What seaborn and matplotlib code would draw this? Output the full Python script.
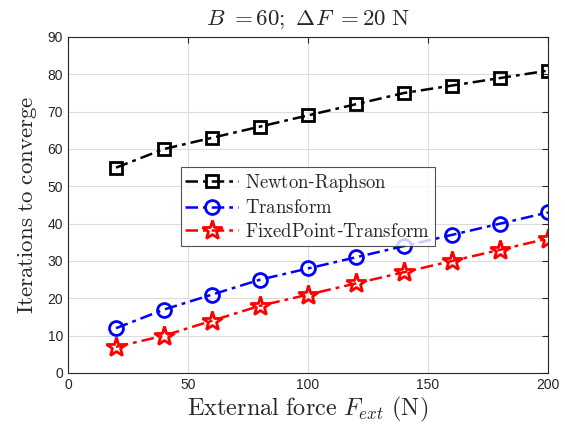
import matplotlib
matplotlib.use("Agg")
import matplotlib.pyplot as plt
import seaborn as sns
import pandas as pd

force = [20, 40, 60, 80, 100, 120, 140, 160, 180, 200]
newton = [55, 60, 63, 66, 69, 72, 75, 77, 79, 81]
transform = [12, 17, 21, 25, 28, 31, 34, 37, 40, 43]
fixedpoint = [7, 10, 14, 18, 21, 24, 27, 30, 33, 36]
xticks = [0, 50, 100, 150, 200]
yticks = [0, 10, 20, 30, 40, 50, 60, 70, 80, 90]

sns.set_style("white")
plt.rcParams['font.family'] = ['Liberation Sans', 'DejaVu Sans']
plt.rcParams['mathtext.fontset'] = 'cm'

fig = plt.figure(figsize=(5.65, 4.32), dpi=100)
ax = fig.add_axes([68/565, 1-373/432, 480/565, 336/432])

df = pd.DataFrame({"F": force, "Newton-Raphson": newton,
                   "Transform": transform, "FixedPoint-Transform": fixedpoint})

styles = [
    ("Newton-Raphson", "black", "s", 8, r"$\mathrm{Newton}$-$\mathrm{Raphson}$"),
    ("Transform", "blue", "o", 10, r"$\mathrm{Transform}$"),
    ("FixedPoint-Transform", "red", "*", 15, r"$\mathrm{FixedPoint}$-$\mathrm{Transform}$"),
]
for col, c, m, ms, lab in styles:
    sns.lineplot(data=df, x="F", y=col, ax=ax, color=c, marker=m, markersize=ms,
                 markerfacecolor="none", markeredgecolor=c, markeredgewidth=2,
                 linewidth=1.8, label=lab)
    ax.lines[-1].set_dashes([5, 2, 1.5, 2])

ax.set_xlim(0, 200)
ax.set_ylim(0, 90)
ax.set_xticks(xticks)
ax.set_yticks(yticks)
ax.grid(True, color="#dcdcdc", linewidth=0.8)
ax.tick_params(direction="in", top=True, right=True, length=4, width=0.8,
               labelsize=10, colors="#262626", labelcolor="#262626")
for s in ax.spines.values():
    s.set_color("#262626")
    s.set_linewidth(0.8)
ax.set_axisbelow(True)

ax.set_title(r"$B\ \mathrm{=60;}\ \Delta F\ \mathrm{=20\ N}$", fontsize=16.5, pad=9)
ax.set_xlabel(r"$\mathrm{External\ force}\ F_{ext}\ \mathrm{(N)}$", fontsize=17.5, labelpad=2)
ax.set_ylabel(r"$\mathrm{Iterations\ to\ converge}$", fontsize=16.5, labelpad=6)

leg = ax.legend(loc="upper left", bbox_to_anchor=(0.235, 0.613), fontsize=13.5,
                frameon=True, fancybox=False, edgecolor="#262626",
                borderpad=0.25, labelspacing=0.3, handlelength=2.8,
                handletextpad=0.4, borderaxespad=0)
leg.get_frame().set_linewidth(0.8)
for h in leg.get_lines():
    h.set_dashes([5, 2, 1.5, 2])

fig.savefig("out.png", dpi=100)
